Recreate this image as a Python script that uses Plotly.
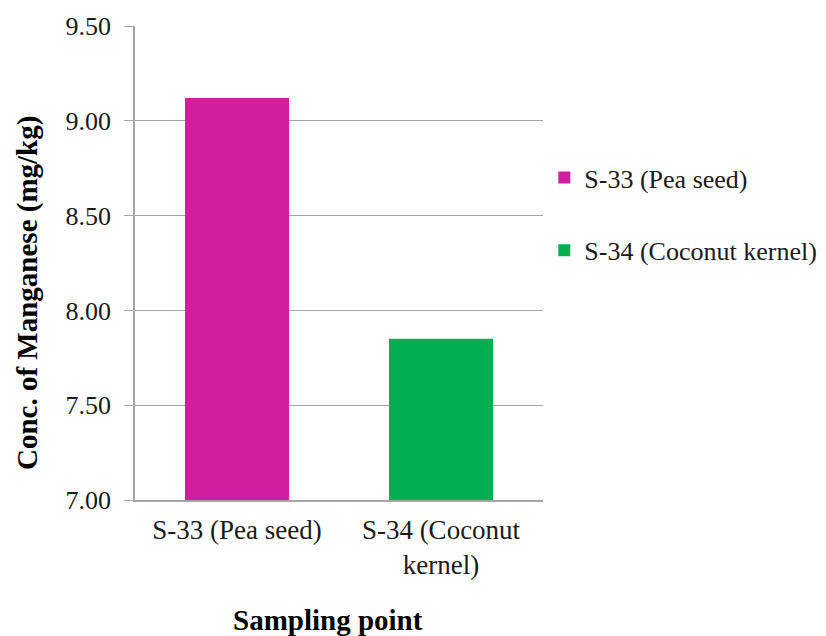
import plotly.graph_objects as go

categories = ["S-33 (Pea seed)", "S-34 (Coconut<br>kernel)"]
series_names = ["S-33 (Pea seed)", "S-34 (Coconut kernel)"]
values = [9.12, 7.85]
colors = ["#D01F9E", "#00AF50"]
y_ticks = [7.00, 7.50, 8.00, 8.50, 9.00, 9.50]

FONT = "Liberation Serif, Times New Roman, serif"
TEXT = "#1a1a1a"
AXIS = "#A6A6A6"

fig = go.Figure()
for i, (name, cat, val, col) in enumerate(zip(series_names, categories, values, colors)):
    fig.add_trace(go.Bar(
        x=[cat], y=[val], name=name,
        marker=dict(color=col, line=dict(width=0)),
        width=0.51, offset=-0.255,
        legendgroup=f"g{i}",
    ))

fig.update_layout(
    width=826, height=636,
    margin=dict(l=135, r=283, t=26, b=136, autoexpand=False),
    paper_bgcolor="white", plot_bgcolor="white",
    font=dict(family=FONT, size=26, color=TEXT),
    showlegend=True,
    legend=dict(
        xref="container", yref="container",
        x=0.659, y=1 - 214 / 636, xanchor="left", yanchor="middle",
        traceorder="grouped", tracegroupgap=36,
        font=dict(family=FONT, size=26, color=TEXT),
        itemwidth=30,
    ),
    annotations=[
        dict(text="<b>Conc. of Manganese (mg/kg)</b>", textangle=-90,
             xref="paper", yref="paper", x=-0.2647, y=0.4367,
             xanchor="center", yanchor="middle", showarrow=False,
             font=dict(family=FONT, size=29, color="#000000")),
        dict(text="<b>Sampling point</b>",
             xref="paper", yref="paper", x=0.473, y=-0.253,
             xanchor="center", yanchor="middle", showarrow=False,
             font=dict(family=FONT, size=29, color="#000000")),
    ],
)

fig.update_xaxes(
    type="category",
    showline=True, linecolor=AXIS, linewidth=1.5,
    showgrid=False, ticks="",
    ticklabelstandoff=5,
    tickfont=dict(family=FONT, size=27, color=TEXT),
)
fig.update_yaxes(
    range=[7.0, 9.5],
    tickvals=y_ticks,
    ticktext=[f"{v:.2f}" for v in y_ticks],
    showline=True, linecolor=AXIS, linewidth=1.5,
    showgrid=True, gridcolor=AXIS, gridwidth=1.2,
    ticks="outside", ticklen=9, tickcolor=AXIS,
    ticklabelstandoff=8,
    tickfont=dict(family=FONT, size=26, color=TEXT),
    zeroline=False,
)

fig.write_html("out.html")
